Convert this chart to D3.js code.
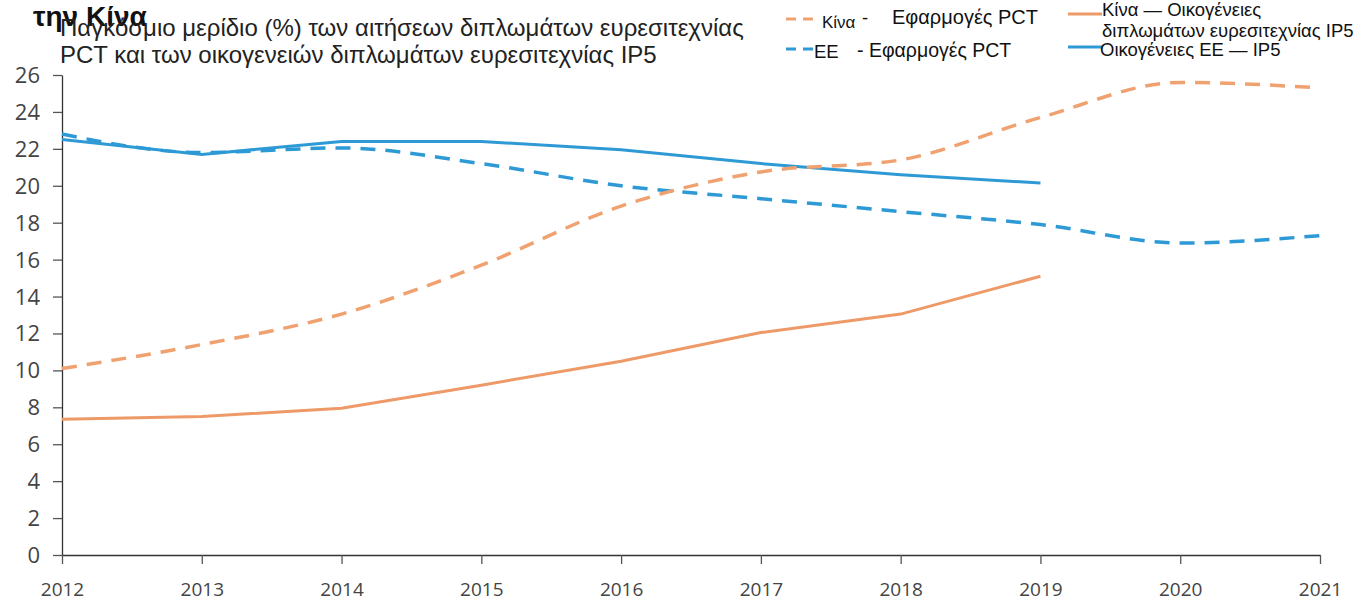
<!DOCTYPE html>
<html>
<head>
<meta charset="utf-8">
<script src="https://cdn.jsdelivr.net/npm/d3@7"></script>
<style>
  body { margin: 0; background: #fff; }
  svg { display: block; }
</style>
</head>
<body>
<div id="chart"></div>
<script>
// Global share of PCT applications and IP5 patent families, China vs EU

let years = [2012, 2013, 2014, 2015, 2016, 2017, 2018, 2019, 2020, 2021];
let yTicks = [0, 2, 4, 6, 8, 10, 12, 14, 16, 18, 20, 22, 24, 26];

let chinaPct = [10.1, 11.4, 13.05, 15.7, 18.9, 20.75, 21.4, 23.7, 25.6, 25.3];
let euPct = [22.8, 21.8, 22.05, 21.2, 20.0, 19.3, 18.6, 17.9, 16.9, 17.3];
let euIp5 = [22.5, 21.7, 22.4, 22.4, 21.95, 21.2, 20.6, 20.15];
let chinaIp5 = [7.35, 7.5, 7.95, 9.2, 10.5, 12.05, 13.05, 15.1];

let orange = "#f0a170";
let orangeSolid = "#ee9a68";
let blue = "#2e9ad5";

let width = 1360, height = 601;
let margin = {top: 75, right: 40, bottom: 46, left: 62};

let svg = d3.select("#chart").append("svg")
    .attr("width", width)
    .attr("height", height);

let x = d3.scaleLinear()
    .domain([2012, 2021])
    .range([margin.left, width - margin.right]);

let y = d3.scaleLinear()
    .domain([0, 26])
    .range([height - margin.bottom, margin.top]);

// axes
let yAxis = svg.append("g")
    .attr("transform", `translate(${margin.left},0)`)
    .call(d3.axisLeft(y).tickValues(yTicks).tickSize(9).tickPadding(13).tickSizeOuter(0));

let xAxis = svg.append("g")
    .attr("transform", `translate(0,${y(0)})`)
    .call(d3.axisBottom(x).tickValues(years).tickFormat(d3.format("d")).tickSize(9).tickPadding(19).tickSizeOuter(0));

[xAxis, yAxis].forEach(g => {
    g.select(".domain").attr("stroke", "#333").attr("stroke-width", 1.3);
    g.selectAll(".tick line").attr("stroke", "#555").attr("stroke-width", 1.3);
    g.selectAll("text")
        .attr("fill", "#444")
        .style("font-family", "'Open Sans', 'DejaVu Sans', sans-serif");
});
xAxis.selectAll("text").style("font-size", "19px");
yAxis.selectAll("text").style("font-size", "22px").attr("dy", "0.34em");

// series
let smooth = d3.line()
    .x((d, i) => x(years[i]))
    .y(d => y(d))
    .curve(d3.curveMonotoneX);

let straight = d3.line()
    .x((d, i) => x(years[i]))
    .y(d => y(d));

svg.append("path")
    .attr("d", straight(chinaIp5))
    .attr("fill", "none")
    .attr("stroke", orangeSolid)
    .attr("stroke-width", 3);

svg.append("path")
    .attr("d", straight(euIp5))
    .attr("fill", "none")
    .attr("stroke", blue)
    .attr("stroke-width", 3);

svg.append("path")
    .attr("d", smooth(euPct))
    .attr("fill", "none")
    .attr("stroke", blue)
    .attr("stroke-width", 3.5)
    .attr("stroke-dasharray", "15,10");

svg.append("path")
    .attr("d", smooth(chinaPct))
    .attr("fill", "none")
    .attr("stroke", orange)
    .attr("stroke-width", 3.5)
    .attr("stroke-dasharray", "15,10");

// titles (the bold one overlaps the subtitle, as in the source)
svg.append("text")
    .attr("x", 33).attr("y", 26)
    .style("font-family", "'Liberation Sans', Arial, sans-serif")
    .style("font-size", "28px")
    .style("font-weight", "bold")
    .attr("fill", "#111")
    .text("την Κίνα");

let title = svg.append("text")
    .style("font-family", "'Liberation Sans', Arial, sans-serif")
    .style("font-size", "24px")
    .attr("fill", "#222");
title.append("tspan").attr("x", 60).attr("y", 36)
    .text("Παγκόσμιο μερίδιο (%) των αιτήσεων διπλωμάτων ευρεσιτεχνίας");
title.append("tspan").attr("x", 60).attr("y", 63)
    .text("PCT και των οικογενειών διπλωμάτων ευρεσιτεχνίας IP5");

// legend
let legend = svg.append("g")
    .style("font-family", "'Liberation Sans', Arial, sans-serif")
    .style("font-size", "18.5px")
    .attr("fill", "#111");

legend.append("line")
    .attr("x1", 786).attr("x2", 818).attr("y1", 19).attr("y2", 19)
    .attr("stroke", orange).attr("stroke-width", 3).attr("stroke-dasharray", "10,7");
legend.append("text").attr("x", 822).attr("y", 28).style("font-size", "17px").text("Κίνα");
legend.append("text").attr("x", 862).attr("y", 24).text("-");
legend.append("text").attr("x", 892).attr("y", 24).style("font-size", "20px").text("Εφαρμογές PCT");

legend.append("line")
    .attr("x1", 786).attr("x2", 818).attr("y1", 49).attr("y2", 49)
    .attr("stroke", blue).attr("stroke-width", 3).attr("stroke-dasharray", "10,7");
legend.append("text").attr("x", 814).attr("y", 58).text("ΕΕ");
legend.append("text").attr("x", 857).attr("y", 57).style("font-size", "19.5px").text("- Εφαρμογές PCT");

legend.append("line")
    .attr("x1", 1068).attr("x2", 1102).attr("y1", 14).attr("y2", 14)
    .attr("stroke", orangeSolid).attr("stroke-width", 3);
legend.append("text").attr("x", 1102).attr("y", 16).text("Κίνα — Οικογένειες");
legend.append("text").attr("x", 1102).attr("y", 37).text("διπλωμάτων ευρεσιτεχνίας IP5");

legend.append("line")
    .attr("x1", 1068).attr("x2", 1102).attr("y1", 47).attr("y2", 47)
    .attr("stroke", blue).attr("stroke-width", 3);
legend.append("text").attr("x", 1100).attr("y", 56).text("Οικογένειες ΕΕ — IP5");
</script>
</body>
</html>
